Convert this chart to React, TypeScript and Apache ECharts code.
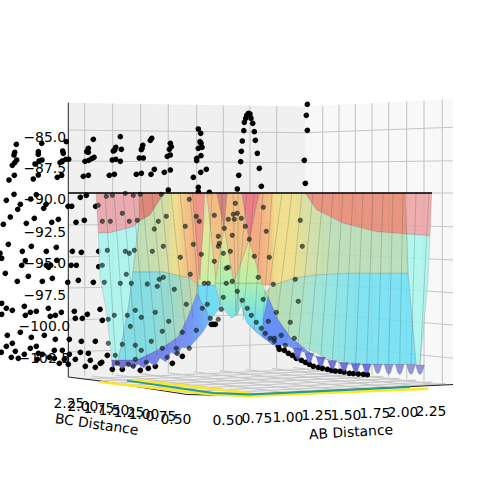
import React, { useEffect, useRef } from "react";
import * as echarts from "echarts";

// All values are picture-plane readings: [across, down].
const openPoints: number[][] = [
[16.3,144.3],[41.7,143.3],[14.7,152.3],[14,155],[38.3,151.7],[38.3,154.3],[62.7,151],[63.3,153.3],[66.3,141.7],[16.7,160],[14.7,162.7],[12.3,165.3],[42,160],[39,161],[35,164],[38.3,175],[33.3,179],[14.3,175.3],[9,180],[62.3,161],[60,162.7],[65.7,159.3],[68.7,159.3],[61.7,175.3],[57.3,177.3],
[93.3,139.3],[88.3,148.3],[88.3,152.3],[86.7,151.7],[94,157.3],[91.7,158.7],[88.7,160.3],[85,161.3],[88.3,175.3],[83.3,176.3],[120.3,136.7],[115.7,147.3],[114.7,150],[113.3,151],[121.3,149.3],[115.7,159.3],[112.3,160],[120.3,161.3],[114.3,174.3],[109.3,175.3],
[151.7,138.3],[150.3,140.3],[142.7,145.3],[142,148.3],[141.3,149.7],[143.3,158],[139.3,158],[141.3,173.3],[136.3,174.3],[154.3,169.3],[151,174.3],[170.3,143.3],[171.3,146.7],[169.3,149.3],[170.3,155],[167.3,156.3],[170.3,170],[164.3,172.3],
[198.3,129],[200.7,133.3],[200,141.7],[201,143.3],[198.3,148.3],[202,147.3],[201,155.7],[196.7,158.3],[196.7,160.7],[200.7,172.3],[206.3,169.3],[193.3,177.3],[198.3,187.3],[198.3,191.7],[209.3,192.3],[168.3,190],
[237.3,189],[238.7,175.3],[240.7,161.7],[241.3,151.3],[242.3,141],[243.8,130.7],[244.3,122.3],[245.7,118.3],[246.7,115.3],[248.3,113.3],[250,114],[251,118.3],[252.7,123.3],[254.3,131.7],[255.3,140.3],[257.3,153.3],[259.3,168.3],[261.3,186.3],
[307.3,104.3],[306.3,115.3],[307.3,130.3],[304.3,160.3],[305.3,183.3],
[14,194.3],[6.3,200.3],[20.3,204.3],[17.7,209.3],[30.7,199],[36.3,194.7],[46,204.3],[43.7,208.3],[58.3,219.3],[51.7,222.3],[34.3,218.3],[26.3,223.3],[10.3,217],[3.3,224.3],[80.3,197.3],[86.3,195.3],[68,206.3],[71.7,206.3],[95.7,206.3],[76,222.3],[84.3,220.3],
[8.3,244.3],[22.3,251.3],[31.3,246.3],[46.3,251.3],[56.3,247.3],[72.3,251.3],[81.3,252.3],[98.7,251.3],[1.7,258.3],[0,253.3],[25.3,260.7],[21.7,265.3],[46.3,265.3],[48.7,267.3],[50.7,265.3],[56.7,260.3],[71,265.3],[76.3,265.3],[98.7,266.7],[5.3,273.3],[28.3,276.3],[17.3,281.3],[42.3,281.3],[52.3,278.3],[67.7,282.3],[78.3,280.3],[93.3,282.3],
[1.7,303.3],[6.3,308.3],[12.3,310.3],[1.7,314.3],[24.3,306.3],[25.3,315.3],[30.3,312.3],[36.3,311.3],[48.3,308.3],[50.3,316.3],[55.3,315.3],[61.3,312.3],[74.3,311.3],[75.3,318.3],[82.3,318.3],[87.3,314.3],[100,309.3],[102.3,320.3],
[7.3,335.3],[20.3,332.3],[31.3,337.3],[44.3,335.3],[55.3,339.3],[69.3,339.3],[81.3,341.3],[95.3,341.3],[12.3,343.3],[6.3,346.3],[1.3,352.3],[15.3,351.3],[11.3,357.3],[18.3,358.3],[24.3,354.3],[30.3,348.3],[36.3,346.3],[38.3,353.3],[42.3,354.3],[37.3,359.3],[49.3,357.3],[54.3,350.3],[62.3,350.3],[54.3,358.3],[59.3,363.3],[64.3,359.3],[68.3,364.3],[69.3,354.3],[75.3,359.3],[80.3,352.3],[88.3,353.3],[90.3,360.3],[85.3,366.3],[95.3,367.3],[100.3,363.3],[107.3,355.3],[101.7,362.3],
[112.3,369.3],[122.3,369.3],[140.3,370.3],[148.3,368.3],[155.3,366.3],[172.3,363.3],[182.3,356.3],[211.3,324.3],[215.3,324.3],[213.3,324.3],
[278.3,346.3],[279.3,349.3],[284.3,350.3],[288.3,353.3],[292.3,355.3],[296.3,358.3],[301.3,360.3],[305.3,362.3],[309.3,364.3],[313.3,366.3],[318.3,367.3],[322.3,368.3],[327.3,369.3],[331.3,370.3],[335.3,371],[340,371.3],[344,372],[349.3,373.3],[353.3,373.7],[358.3,374],[363.3,374.3],[367.3,374.7],
];

const coveredPoints: number[][] = [
[98.3,205.3],[106.3,196.3],[112.3,195.3],[125.3,193.3],[133.3,195.3],[140.3,194.3],[161.3,194.3],[189.3,199.3],[196.3,216.3],[199.3,221.3],[102.3,221.3],[110.3,221.3],[122.3,213.3],[129.3,221.3],[137.3,220.3],[158.3,221.3],[166.3,216.3],[154.3,229],[185.3,226.3],[214.3,215.3],[218.3,236.3],[193.3,244.3],[163.3,246.3],[152.3,251.3],[107.3,250.3],[125.3,251.3],[129.3,253.3],[134.3,250.3],[180.3,257.3],[201.3,254.3],[218.3,246.3],[214.3,261.3],[102.3,265.3],[126.3,274.3],[104.3,282.3],[120.3,283.3],[131.3,283.3],[147.3,284],[159.3,279.3],[163.3,277.3],[190.3,274.3],[204.3,283.3],[208.3,283.3],
[235.3,203.3],[233.3,214.3],[237.3,213.3],[228.3,219.3],[234.3,219.3],[241.3,218.3],[263.3,207.3],[224.3,228.3],[245.3,226.3],[232.3,235.3],[249.3,239.3],[266.3,231.3],[300.3,220.3],[219.3,243.3],[302.3,246.3],[223.3,253.3],[230.3,251.3],[254.3,256.3],[269.3,257.3],[228.3,267.3],[226.3,268.3],[258.3,277.3],[232.3,281.3],[226.3,283.3],[273.3,284.3],[295.3,279.3],
[157.3,286.3],[174.3,289.3],[186.3,304.3],[207.3,304.3],[202.3,308.3],[108.3,319.3],[114.3,315.3],[127.3,315.3],[135.3,310.3],[141.3,317.3],[155.3,312.3],[168.7,321.3],[130.3,326.3],[108.3,343.3],[122.3,344.3],[135.3,345.3],[141.3,350.3],[151.3,341.3],[162.3,331.3],[162.3,348.3],[182.3,332.3],[196.3,330.3],[210.3,318.3],[218.3,319.3],[115.3,355.3],[117.3,363.3],[128.3,364.3],[135.3,359.3],[133.3,366.3],[146.3,362.3],[167.3,357.3],[177.3,353.3],[176.3,348.3],[189.3,348.3],
[237.3,291.3],[223.3,297.3],[242.3,300.3],[263.3,299.3],[298.3,301.3],[247.3,308.3],[221.3,309.3],[276.3,312.3],[251.3,315.3],[268.3,321.3],[256.3,322.3],[290.3,322.3],[261.3,328.3],[265.3,333.3],[281.3,335.3],[294.3,338.3],[270.3,338.3],[274.3,338.3],[274.3,341.3],[285.3,345.3],
];

const zTickLabels = ["\u221285.0","\u221287.5","\u221290.0","\u221292.5","\u221295.0","\u221297.5","\u2212100.0","\u2212102.5"];
const bcTickLabels = ["2.25","2.00","1.75","1.50","1.25","1.00","0.75","0.50"];
const abTickLabels = ["0.50","0.75","1.00","1.25","1.50","1.75","2.00","2.25"];

const zLabelRight = [66,66,66,66,66,66,70,70];
const zLabelDown = [136.7,168.3,199.3,231.7,263.3,295,326,358];
const bcLabelAcross = [69,83,99,114,129,144,161,176];
const bcLabelDown = [403,406,408,410,412,414,416,419];
const abLabelAcross = [228,257,288,317,346,375,403,431];
const abLabelDown = [420,418,416.7,415,415,412.7,412,411];

const zGridLeft = [130,161,193,225,257,288,320,352];
const zGridBack = [132.7,162.7,193,223,253,283,313,343];
const zGridRight = [127.3,160.7,193,226.7,260,292.7,325,358.3];
const leftPaneGrid = [84.7,112.7,140.7,168.3,196.7,223.3,250,276.7];
const rightPaneGrid = [322.7,339,355.3,372,388.7,406.7,424,442.3];
const floorSteps = [0.1,0.2,0.31,0.42,0.53,0.64,0.75,0.86,0.95];

const paneLeft = [[68,102.7],[305,106.5],[305,367],[68,377]];
const paneRight = [[305,106.5],[453,99.3],[453,384.5],[305,367]];
const paneFloor = [[68,377],[305,367],[453,384.5],[215,397]];

const leftPink = [[96,193],[164,193],[150,215],[133,226.7],[110,232.7],[98.3,233]];
const leftBrown = [[139,193],[164,193],[150,215],[139,221]];
const leftCyan = [[98.3,233],[110,232.7],[133,226.7],[139,221],[133,272],[128,310],[121.7,343],[118,361],[111.7,361],[110,343],[106.7,313],[100,277]];
const rightPink = [[405,193],[431.7,193],[430,235.7],[406.7,234]];
const rightBrown = [[305,193],[405,193],[406.7,234],[376.7,231.7],[343.3,223.3],[316.7,210]];
const rightCyan = [[406.7,234],[430,235.7],[428,280],[420,366],[416,364],[408,273.3]];
const hillLeft = [[139,221],[150,215],[164,193],[193,193],[200,280],[198,285],[190,278],[163,272],[133,272]];
const hillRight = [[259,193],[305,193],[316.7,210],[343.3,223.3],[376.7,231.7],[406.7,234],[408,273.3],[350,273.3],[316.7,275],[293.3,278.3],[273.3,285],[260,285],[249,240]];
const lowerLeft = [[133,272],[163,272],[190,278],[197,285],[197,293],[188,317],[178,337],[161.7,348],[136.7,361],[118,361],[121.7,343],[128,310]];
const lowerRight = [[265,292],[273.3,285],[293.3,278.3],[316.7,275],[350,273.3],[408,273.3],[416,364],[383,365],[350,363],[327,358],[305,348],[285,335],[277,318]];
const blueLeft = [[111.7,360],[136.7,360],[161.7,348],[178,337],[188,317],[197,293],[203,305],[210.7,319],[203,332],[189,348],[182,347],[177,356],[171,352],[166,362],[160,358],[155,366],[149,362],[144,368],[138,364],[133,368],[127,365],[122,369],[117,364],[112,368]];
const cyanCenterLeft = [[197,285],[215,285],[221,307],[210.7,319],[203,305],[197,293]];
const tealLeft = [[215,283],[234,283],[241.7,305],[236.7,315],[231.7,318],[226.7,313],[221.7,307]];
const tealRight = [[234,283],[262,283],[265,292],[277,318],[290,337],[283,345],[273,345],[257,333],[247,323],[243,313],[241.7,305]];
const blueRight = [[268,296],[277,318],[290,337],[313,355],[345,364],[366,365],[345,363.3],[320,358],[298,350],[285,345],[273,345],[262,336],[263,320]];
const wedgeGreenLeft = [[224,228],[234,283],[215,283]];
const wedgeGreenRight = [[249,240],[262,283],[234,283]];
const orangeCenter = [[227,193],[242,193],[249,240],[234,283],[224,228]];
const orangeLeft = [[206.7,193],[217,193],[224,228],[216,282]];
const wedgeYellow = [[206.7,193],[216,283],[198,283]];
const wedgeRed1 = [[192,193],[205,193],[200,280]];
const wedgeRed2 = [[217,193],[227,193],[224,228]];
const wedgeRed3 = [[242,193],[259,193],[249,240]];

const spikeAcross = [297.7,309.3,320.7,332.3,344,355.7,366.7,377.7,388.7,399.7,411,420];
const spikeTip = [360,363.3,366.7,369.3,371.7,372.7,373.3,374,374.7,374.7,374.7,374.7];
const spikeBase = [348,353,357,360.5,362.5,363.5,364,364,364.3,364.3,364.3,365];
const spikeTop = [313,323,333,343,353,363,373,383,393,403,416,429];

const wireLeftTop = [105,114,123,133,142,152,161,171,180,190];
const wireLeftEndAcross = [116,126,137,147,157,167,176,186,193,199];
const wireLeftEndDown = [362,363,362,360,355,350,345,335,318,300];
const wireMidTop = [212,222,233,238,247,254,263,272,282,292,302];
const wireMidEndAcross = [206,220,236,238,236,243,254,263,268,277,288];
const wireMidEndDown = [312,305,316,315,312,320,330,320,296,318,335];

const edgeLeft = [[68.3,102.7],[68.3,377]];
const surfaceTop = [[68,193],[432,193]];
const floorFrontLeft = [[68.3,377],[100,381],[187,394.5],[250,396]];
const floorFrontRight = [[250,394.5],[453,384.5]];
const yellowFront = [[100,382],[213,394.5],[250,396],[428.3,388.7]];
const yellowBack = [[133,380],[250,393]];
const tealContour = [[127,380.7],[213,393],[250,394.5],[410,387]];

const across = (a: number, stops: [number, string][], b: number) =>
  new echarts.graphic.LinearGradient(a, 0, b, 0, stops.map(([at, color]) => ({ offset: (at - a) / (b - a), color })), true);
const down = (a: number, stops: [number, string][], b: number) =>
  new echarts.graphic.LinearGradient(0, a, 0, b, stops.map(([at, color]) => ({ offset: (at - a) / (b - a), color })), true);

const lerp = (p: number[], q: number[], t: number) => [p[0] + (q[0] - p[0]) * t, p[1] + (q[1] - p[1]) * t];

export default function App() {
  const ref = useRef<HTMLDivElement>(null);
  useEffect(() => {
    document.body.style.margin = "0";
    const chart = echarts.init(ref.current!, null, { renderer: "svg" });

    const bands: { pts: number[][]; fill: any }[] = [
      { pts: leftPink, fill: "#e8a0a6" },
      { pts: leftBrown, fill: "#d88470" },
      { pts: leftCyan, fill: "#a6f4ec" },
      { pts: rightPink, fill: "#eca2a4" },
      { pts: rightBrown, fill: "#e58670" },
      { pts: rightCyan, fill: "#a8f5ec" },
      { pts: hillLeft, fill: across(139, [[139,"#b8dcb0"],[165,"#cfdc9c"],[176,"#efdd80"],[184,"#f4c27a"],[198,"#f2a274"]], 198) },
      { pts: hillRight, fill: across(259, [[259,"#f2a274"],[271,"#f5be78"],[275,"#f0dc80"],[293,"#efde82"],[306,"#d5dc98"],[332,"#b8dcb2"],[408,"#b4dcb6"]], 408) },
      { pts: lowerLeft, fill: across(118, [[118,"#74dae6"],[150,"#78dbe0"],[176,"#96d6c0"],[197,"#c2d4a0"]], 197) },
      { pts: lowerRight, fill: across(265, [[265,"#b8d8a0"],[300,"#a6e0c0"],[330,"#8ae4df"],[360,"#72dff0"],[416,"#6cdff6"]], 416) },
      { pts: blueLeft, fill: across(111, [[111,"#6c5cc0"],[150,"#6470e6"],[190,"#6488f6"],[210,"#5cb4f8"]], 210) },
      { pts: cyanCenterLeft, fill: "#5fd8f4" },
      { pts: tealRight, fill: down(283, [[283,"#a8f0a8"],[300,"#80eac8"],[322,"#62d8f5"],[345,"#6aa4f8"]], 345) },
      { pts: tealLeft, fill: down(283, [[283,"#a8f0a8"],[318,"#6ee0e4"]], 318) },
      { pts: blueRight, fill: "#6488f6" },
      { pts: orangeLeft, fill: down(193, [[193,"#f4b274"],[282,"#f2c47c"]], 282) },
      { pts: orangeCenter, fill: "#f3b878" },
      { pts: wedgeYellow, fill: down(193, [[193,"#f0e088"],[283,"#c8ee98"]], 283) },
      { pts: wedgeGreenLeft, fill: down(228, [[228,"#f0e080"],[283,"#a8f0a8"]], 283) },
      { pts: wedgeGreenRight, fill: down(240, [[240,"#f0e080"],[283,"#b4f0a0"]], 283) },
      { pts: wedgeRed1, fill: "#ee8a78" },
      { pts: wedgeRed2, fill: "#cf7670" },
      { pts: wedgeRed3, fill: "#e8707a" },
    ];

    const spikes = spikeAcross.map((x, i) => ({
      pts: [[x - 4.5, spikeBase[i]], [x - 2, spikeBase[i] + (spikeTip[i] - spikeBase[i]) * 0.8], [x, spikeTip[i]], [x + 2, spikeBase[i] + (spikeTip[i] - spikeBase[i]) * 0.8], [x + 4.5, spikeBase[i]]],
      fill: i < 7 ? "#5a62d8" : "#8486d0",
    }));

    const gridLines: number[][][] = [];
    zGridLeft.forEach((y, i) => {
      gridLines.push([[68, y], [305, zGridBack[i]], [453, zGridRight[i]]]);
    });
    leftPaneGrid.forEach((x) => {
      const t = (x - 68) / 237;
      gridLines.push([lerp(paneLeft[0], paneLeft[1], t), lerp(paneLeft[3], paneLeft[2], t)]);
    });
    rightPaneGrid.forEach((x) => {
      const t = (x - 305) / 148;
      gridLines.push([lerp(paneRight[0], paneRight[1], t), lerp(paneRight[3], paneRight[2], t)]);
    });
    floorSteps.forEach((t) => {
      gridLines.push([lerp(paneFloor[0], paneFloor[1], t), lerp(paneFloor[3], paneFloor[2], t)]);
      gridLines.push([lerp(paneFloor[1], paneFloor[2], t), lerp(paneFloor[0], paneFloor[3], t)]);
    });

    const wires: number[][][] = [];
    wireLeftTop.forEach((x, i) => wires.push([[x, 193], [wireLeftEndAcross[i], wireLeftEndDown[i]]]));
    wireMidTop.forEach((x, i) => wires.push([[x, 193], [wireMidEndAcross[i], wireMidEndDown[i]]]));
    spikeTop.forEach((x, i) => wires.push([[x, 193], [spikeAcross[i], spikeBase[i]]]));

    const polySeries = (items: { pts: number[][]; fill: any }[], z: number, opacity: number, stroke: string) => ({
      type: "custom", coordinateSystem: "cartesian2d", silent: true, z, clip: false,
      data: items.map((_, i) => [i]),
      encode: { x: 0 },
      renderItem: (p: any, api: any) => {
        const it = items[p.dataIndex];
        return { type: "polygon", shape: { points: it.pts.map((q) => api.coord(q)) },
          style: { fill: it.fill, opacity, stroke, lineWidth: 0.6 } };
      },
    });
    const lineSeries = (items: number[][][], z: number, stroke: string, lineWidth: number) => ({
      type: "custom", coordinateSystem: "cartesian2d", silent: true, z, clip: false,
      data: items.map((_, i) => [i]),
      encode: { x: 0 },
      renderItem: (p: any, api: any) => ({
        type: "polyline", shape: { points: items[p.dataIndex].map((q) => api.coord(q)) },
        style: { fill: "none", stroke, lineWidth },
      }),
    });
    type Lab = { text: string; x: number; y: number; align: string; rot?: number };
    const labels: Lab[] = [
      ...zTickLabels.map((text, i) => ({ text, x: zLabelRight[i], y: zLabelDown[i], align: "right" })),
      ...bcTickLabels.map((text, i) => ({ text, x: bcLabelAcross[i] , y: bcLabelDown[i], align: "center" })),
      ...abTickLabels.map((text, i) => ({ text, x: abLabelAcross[i], y: abLabelDown[i], align: "center" })),
      { text: "BC Distance", x: 96.7, y: 424, align: "center", rot: -0.14 },
      { text: "AB Distance", x: 351, y: 431.7, align: "center", rot: 0.06 },
    ];
    const labelSeries = {
      type: "custom", coordinateSystem: "cartesian2d", silent: true, z: 9, clip: false,
      data: labels.map((_, i) => [i]),
      encode: { x: 0 },
      renderItem: (p: any, api: any) => {
        const l = labels[p.dataIndex];
        const [x, y] = api.coord([l.x, l.y]);
        return { type: "text", x, y, rotation: l.rot || 0,
          style: { text: l.text, fontFamily: "DejaVu Sans", fontSize: 13.9, fill: "#000",
            align: l.align, verticalAlign: "middle" } };
      },
    };

    chart.setOption({
      animation: false,
      backgroundColor: "#fff",
      grid: { left: 0, top: 0, width: 500, height: 496 },
      xAxis: { type: "value", min: 0, max: 500, show: false },
      yAxis: { type: "value", min: 0, max: 496, inverse: true, show: false },
      series: [
        polySeries([{ pts: paneLeft, fill: "#f0f0f0" }, { pts: paneRight, fill: "#f8f8f8" }, { pts: paneFloor, fill: "#eeeeee" }], 1, 1, "none"),
        lineSeries(gridLines, 2, "#c6c6c6", 1.1),
        lineSeries([floorFrontLeft, floorFrontRight, edgeLeft], 2, "#222", 1),
        lineSeries([yellowBack, yellowFront], 3, "#fde725", 2.4),
        lineSeries([tealContour], 3, "#1f9e89", 1.8),
        { type: "scatter", data: openPoints, symbolSize: 5.6, silent: true, z: 4, clip: false, itemStyle: { color: "#000", opacity: 1 } },
        polySeries([...bands, ...spikes], 5, 0.88, "rgba(60,70,70,0.3)"),
        lineSeries(wires, 6, "rgba(50,70,70,0.32)", 0.7),
        { type: "scatter", data: coveredPoints, symbolSize: 5.2, silent: true, z: 7, clip: false, itemStyle: { color: "#0a1a10", opacity: 0.66 } },
        lineSeries([surfaceTop], 8, "#000", 1.3),
        labelSeries,
      ],
    });
    return () => chart.dispose();
  }, []);
  return <div ref={ref} style={{ width: 500, height: 496 }} />;
}
